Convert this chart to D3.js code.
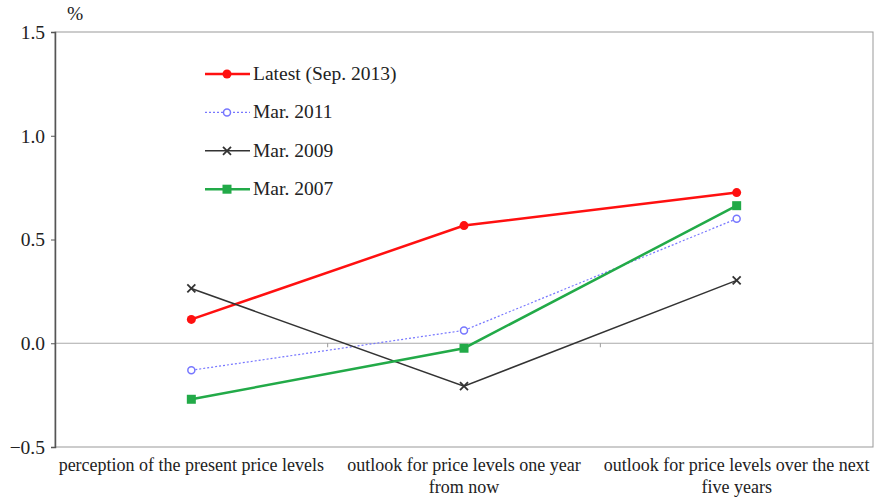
<!DOCTYPE html>
<html><head><meta charset="utf-8">
<script src="https://cdn.jsdelivr.net/npm/d3@7"></script>
<style>body{margin:0;background:#fff}svg{display:block}</style>
</head><body><svg id="c" width="881" height="503"></svg>
<script>
const categories = [["perception of the present price levels"],["outlook for price levels one year","from now"],["outlook for price levels over the next","five years"]];
const yTicks = [-0.5, 0.0, 0.5, 1.0, 1.5];
const seriesNames = ["Latest (Sep. 2013)","Mar. 2011","Mar. 2009","Mar. 2007"];
const latest = [0.115, 0.567, 0.726];
const mar2011 = [-0.13, 0.062, 0.60];
const mar2009 = [0.264, -0.207, 0.303];
const mar2007 = [-0.27, -0.024, 0.663];

const FONT = "Liberation Serif";
const FS = 19.5;
const FSX = 18;
const styles = [
  {color:"#ff1010", width:2.5, dash:null, marker:"circle"},
  {color:"#7777ff", width:1.2, dash:"2,2", marker:"opencircle"},
  {color:"#333333", width:1.5, dash:null, marker:"x"},
  {color:"#22aa48", width:2.5, dash:null, marker:"square"}
];
const seriesData = [latest, mar2011, mar2009, mar2007];

const svg = d3.select("#c");
const L=55, R=873, T=32, B=447;
const x = d3.scaleBand().domain(d3.range(categories.length)).range([L,R]);
const y = d3.scaleLinear().domain([-0.5,1.5]).range([B,T]);

svg.append("rect").attr("x",L).attr("y",T).attr("width",R-L).attr("height",B-T).attr("fill","none").attr("stroke","#999").attr("stroke-width",1);
svg.append("line").attr("x1",L).attr("x2",R).attr("y1",y(0)).attr("y2",y(0)).attr("stroke","#aaa").attr("stroke-width",1.2);
[1,2].forEach(i=>{ const xx=L+i*x.bandwidth(); svg.append("line").attr("x1",xx).attr("x2",xx).attr("y1",y(0)).attr("y2",y(0)+4).attr("stroke","#999");});

const yAxis = d3.axisLeft(y).tickValues(yTicks).tickFormat(d3.format(".1f")).tickSize(4).tickPadding(6);
const ga = svg.append("g").attr("transform",`translate(${L},0)`).call(yAxis);
ga.attr("font-family", FONT).attr("font-size",FS);
ga.select(".domain").attr("stroke","#555").attr("stroke-width",1.5);
ga.selectAll(".tick line").attr("stroke","#555");
ga.selectAll("text").attr("font-family",FONT).attr("font-size",FS).attr("fill","#222");
svg.append("text").attr("x",67).attr("y",20).attr("font-size",FS).attr("font-family",FONT).attr("fill","#222").text("%");

categories.forEach((lines,i)=>{
  const cx = x(i)+x.bandwidth()/2;
  lines.forEach((t,j)=>{
    svg.append("text").attr("x",cx).attr("y",471+j*22).attr("text-anchor","middle").attr("font-size",FSX).attr("font-family",FONT).attr("fill","#222").text(t);
  });
});

function marker(g, type, cx, cy, color){
  if(type==="circle") g.append("circle").attr("cx",cx).attr("cy",cy).attr("r",4.5).attr("fill",color);
  else if(type==="opencircle") g.append("circle").attr("cx",cx).attr("cy",cy).attr("r",3.5).attr("fill","#fff").attr("stroke",color).attr("stroke-width",1.5);
  else if(type==="square") g.append("rect").attr("x",cx-4.5).attr("y",cy-4.5).attr("width",9).attr("height",9).attr("fill",color);
  else if(type==="x"){ g.append("path").attr("d",`M${cx-4},${cy-4}L${cx+4},${cy+4}M${cx-4},${cy+4}L${cx+4},${cy-4}`).attr("stroke",color).attr("stroke-width",1.8);}
}

const line = d3.line().x((d,i)=>x(i)+x.bandwidth()/2).y(d=>y(d));
seriesData.forEach((s,k)=>{
  const st=styles[k];
  const g=svg.append("g");
  g.append("path").attr("d",line(s)).attr("fill","none").attr("stroke",st.color).attr("stroke-width",st.width).attr("stroke-dasharray",st.dash);
  s.forEach((v,i)=>marker(g,st.marker,x(i)+x.bandwidth()/2,y(v),st.color));
});

seriesNames.forEach((n,k)=>{
  const st=styles[k];
  const ly=74+k*38.4;
  const g=svg.append("g");
  g.append("line").attr("x1",205).attr("x2",250).attr("y1",ly).attr("y2",ly).attr("stroke",st.color).attr("stroke-width",st.width).attr("stroke-dasharray",st.dash);
  marker(g,st.marker,227,ly,st.color);
  g.append("text").attr("x",253).attr("y",ly+6).attr("font-size",FS).attr("font-family",FONT).attr("fill","#222").text(n);
});
</script></body></html>
